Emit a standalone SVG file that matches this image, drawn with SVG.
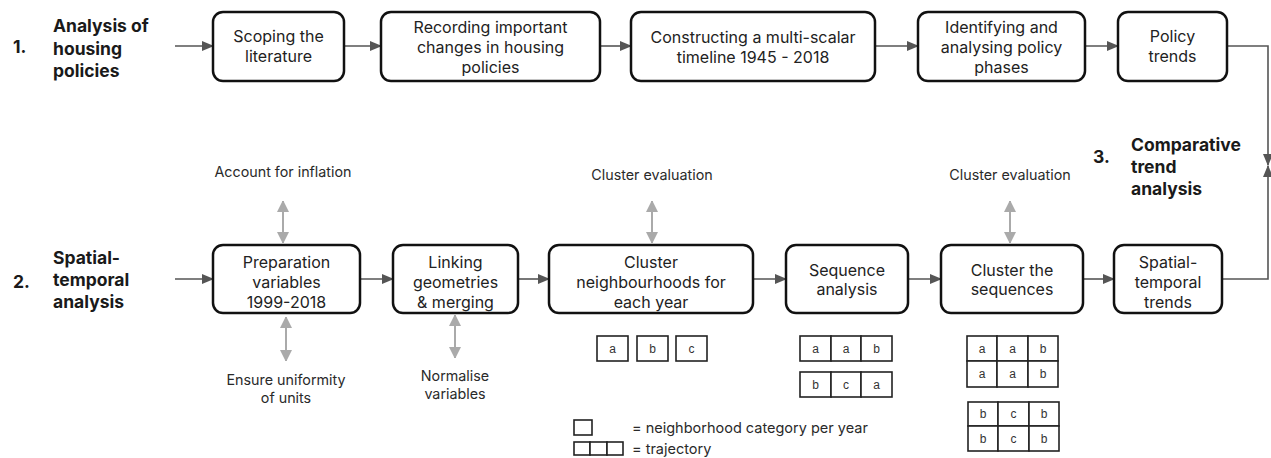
<svg xmlns="http://www.w3.org/2000/svg" width="1271" height="458" viewBox="0 0 1271 458">
<style>
text{font-family:Inter,"Open Sans","Liberation Sans",sans-serif;fill:#222}
.box{fill:#fff;stroke:#111;stroke-width:2.5}
.t{font-size:16px;text-anchor:middle}
.h{font-size:17.5px;font-weight:bold;fill:#1a1a1a}
.a{font-size:14.3px;text-anchor:middle;fill:#2a2a2a}
.l{font-size:14.5px;fill:#2a2a2a}
.c{fill:#fff;stroke:#222;stroke-width:1.6}
.ct{font-family:"Liberation Sans",Arial,sans-serif;font-size:12px;text-anchor:middle;fill:#333}
.con{fill:none;stroke:#555;stroke-width:1.6}
.g{fill:none;stroke:#aaa;stroke-width:2}
</style>
<defs>
<marker id="ah" markerUnits="userSpaceOnUse" markerWidth="12" markerHeight="10" refX="11" refY="5" orient="auto"><path d="M0,0 L12,5 L0,10 Z" fill="#555"/></marker>
<marker id="gh" markerUnits="userSpaceOnUse" markerWidth="10" markerHeight="12" refX="11" refY="6" orient="auto-start-reverse"><path d="M0,0 L12,6 L0,12 Z" fill="#aaa"/></marker>
</defs>

<g id="labels">
<text class="h" x="13" y="53">1.</text>
<text class="h" x="53" y="32">Analysis of</text>
<text class="h" x="53" y="55">housing</text>
<text class="h" x="53" y="77">policies</text>
<text class="h" x="13" y="288">2.</text>
<text class="h" x="53" y="264">Spatial-</text>
<text class="h" x="53" y="286">temporal</text>
<text class="h" x="53" y="308">analysis</text>
<text class="h" x="1093" y="163">3.</text>
<text class="h" x="1131" y="151">Comparative</text>
<text class="h" x="1131" y="173">trend</text>
<text class="h" x="1131" y="195">analysis</text>
</g>

<g id="connectors">
<line class="con" x1="175" y1="46" x2="213" y2="46" marker-end="url(#ah)"/>
<line class="con" x1="344" y1="46" x2="381" y2="46" marker-end="url(#ah)"/>
<line class="con" x1="600" y1="46" x2="631" y2="46" marker-end="url(#ah)"/>
<line class="con" x1="875" y1="46" x2="918" y2="46" marker-end="url(#ah)"/>
<line class="con" x1="1085" y1="46" x2="1118" y2="46" marker-end="url(#ah)"/>
<polyline class="con" points="1227,46 1268,46 1268,165" marker-end="url(#ah)"/>
<polyline class="con" points="1222,279 1268,279 1268,166" marker-end="url(#ah)"/>
<line class="con" x1="175" y1="279" x2="213" y2="279" marker-end="url(#ah)"/>
<line class="con" x1="360" y1="279" x2="393" y2="279" marker-end="url(#ah)"/>
<line class="con" x1="518" y1="279" x2="549" y2="279" marker-end="url(#ah)"/>
<line class="con" x1="753" y1="279" x2="786" y2="279" marker-end="url(#ah)"/>
<line class="con" x1="908" y1="279" x2="941" y2="279" marker-end="url(#ah)"/>
<line class="con" x1="1083" y1="279" x2="1114" y2="279" marker-end="url(#ah)"/>
<line class="g" x1="283" y1="201" x2="283" y2="243" marker-start="url(#gh)" marker-end="url(#gh)"/>
<line class="g" x1="652" y1="201" x2="652" y2="243" marker-start="url(#gh)" marker-end="url(#gh)"/>
<line class="g" x1="1010" y1="201" x2="1010" y2="243" marker-start="url(#gh)" marker-end="url(#gh)"/>
<line class="g" x1="286" y1="317" x2="286" y2="361" marker-start="url(#gh)" marker-end="url(#gh)"/>
<line class="g" x1="455" y1="315" x2="455" y2="358" marker-start="url(#gh)" marker-end="url(#gh)"/>
</g>

<g id="n1"><rect class="box" x="213" y="12" width="131" height="69" rx="10"/>
<text class="t" x="278.5" y="42">Scoping the</text><text class="t" x="278.5" y="62">literature</text></g>
<g id="n2"><rect class="box" x="381" y="12" width="219" height="69" rx="10"/>
<text class="t" x="490.5" y="33">Recording important</text><text class="t" x="490.5" y="53">changes in housing</text><text class="t" x="490.5" y="73">policies</text></g>
<g id="n3"><rect class="box" x="631" y="12" width="244" height="69" rx="10"/>
<text class="t" x="753" y="43">Constructing a multi-scalar</text><text class="t" x="753" y="63">timeline 1945 - 2018</text></g>
<g id="n4"><rect class="box" x="918" y="12" width="167" height="69" rx="10"/>
<text class="t" x="1001.5" y="33">Identifying and</text><text class="t" x="1001.5" y="53">analysing policy</text><text class="t" x="1001.5" y="73">phases</text></g>
<g id="n5"><rect class="box" x="1118" y="12" width="109" height="69" rx="10"/>
<text class="t" x="1172.5" y="42">Policy</text><text class="t" x="1172.5" y="62">trends</text></g>

<g id="m1"><rect class="box" x="213" y="245" width="147" height="68" rx="10"/>
<text class="t" x="286.5" y="268">Preparation</text><text class="t" x="286.5" y="288">variables</text><text class="t" x="286.5" y="308">1999-2018</text></g>
<g id="m2"><rect class="box" x="393" y="245" width="125" height="68" rx="10"/>
<text class="t" x="455.5" y="268">Linking</text><text class="t" x="455.5" y="288">geometries</text><text class="t" x="455.5" y="308">&amp; merging</text></g>
<g id="m3"><rect class="box" x="549" y="245" width="204" height="68" rx="10"/>
<text class="t" x="651" y="268">Cluster</text><text class="t" x="651" y="288">neighbourhoods for</text><text class="t" x="651" y="308">each year</text></g>
<g id="m4"><rect class="box" x="786" y="245" width="122" height="68" rx="10"/>
<text class="t" x="847" y="276">Sequence</text><text class="t" x="847" y="295">analysis</text></g>
<g id="m5"><rect class="box" x="941" y="245" width="142" height="68" rx="10"/>
<text class="t" x="1012" y="276">Cluster the</text><text class="t" x="1012" y="295">sequences</text></g>
<g id="m6"><rect class="box" x="1114" y="245" width="108" height="68" rx="10"/>
<text class="t" x="1168" y="268">Spatial-</text><text class="t" x="1168" y="288">temporal</text><text class="t" x="1168" y="308">trends</text></g>

<g id="annotations">
<text class="a" x="283" y="177">Account for inflation</text>
<text class="a" x="652" y="180">Cluster evaluation</text>
<text class="a" x="1010" y="180">Cluster evaluation</text>
<text class="a" x="286" y="385">Ensure uniformity</text>
<text class="a" x="286" y="403">of units</text>
<text class="a" x="455" y="381">Normalise</text>
<text class="a" x="455" y="399">variables</text>
</g>

<g id="cells-year">
<rect class="c" x="597" y="336" width="31" height="25"/><text class="ct" x="612.5" y="353">a</text>
<rect class="c" x="637" y="336" width="31" height="25"/><text class="ct" x="652.5" y="353">b</text>
<rect class="c" x="676" y="336" width="31" height="25"/><text class="ct" x="691.5" y="353">c</text>
</g>
<g id="cells-seq">
<rect class="c" x="800" y="336" width="31" height="25"/><text class="ct" x="815.5" y="353">a</text>
<rect class="c" x="831" y="336" width="30" height="25"/><text class="ct" x="846" y="353">a</text>
<rect class="c" x="861" y="336" width="31" height="25"/><text class="ct" x="876.5" y="353">b</text>
<rect class="c" x="800" y="372" width="31" height="25"/><text class="ct" x="815.5" y="389">b</text>
<rect class="c" x="831" y="372" width="30" height="25"/><text class="ct" x="846" y="389">c</text>
<rect class="c" x="861" y="372" width="31" height="25"/><text class="ct" x="876.5" y="389">a</text>
</g>
<g id="cells-cluster">
<rect class="c" x="967" y="336" width="30" height="25"/><text class="ct" x="982" y="353">a</text>
<rect class="c" x="997" y="336" width="31" height="25"/><text class="ct" x="1012.5" y="353">a</text>
<rect class="c" x="1028" y="336" width="30" height="25"/><text class="ct" x="1043" y="353">b</text>
<rect class="c" x="967" y="361" width="30" height="26"/><text class="ct" x="982" y="378">a</text>
<rect class="c" x="997" y="361" width="31" height="26"/><text class="ct" x="1012.5" y="378">a</text>
<rect class="c" x="1028" y="361" width="30" height="26"/><text class="ct" x="1043" y="378">b</text>
<rect class="c" x="968" y="402" width="30" height="24"/><text class="ct" x="983" y="418">b</text>
<rect class="c" x="998" y="402" width="31" height="24"/><text class="ct" x="1013.5" y="418">c</text>
<rect class="c" x="1029" y="402" width="30" height="24"/><text class="ct" x="1044" y="418">b</text>
<rect class="c" x="968" y="426" width="30" height="25"/><text class="ct" x="983" y="443">b</text>
<rect class="c" x="998" y="426" width="31" height="25"/><text class="ct" x="1013.5" y="443">c</text>
<rect class="c" x="1029" y="426" width="30" height="25"/><text class="ct" x="1044" y="443">b</text>
</g>
<g id="legend">
<rect class="c" x="574" y="420" width="18" height="15" stroke="#444"/>
<rect class="c" x="574" y="442" width="16" height="13" stroke="#444"/>
<rect class="c" x="590" y="442" width="17" height="13" stroke="#444"/>
<rect class="c" x="607" y="442" width="16" height="13" stroke="#444"/>
<text class="l" x="632" y="433">= neighborhood category per year</text>
<text class="l" x="632" y="454">= trajectory</text>
</g>
</svg>
